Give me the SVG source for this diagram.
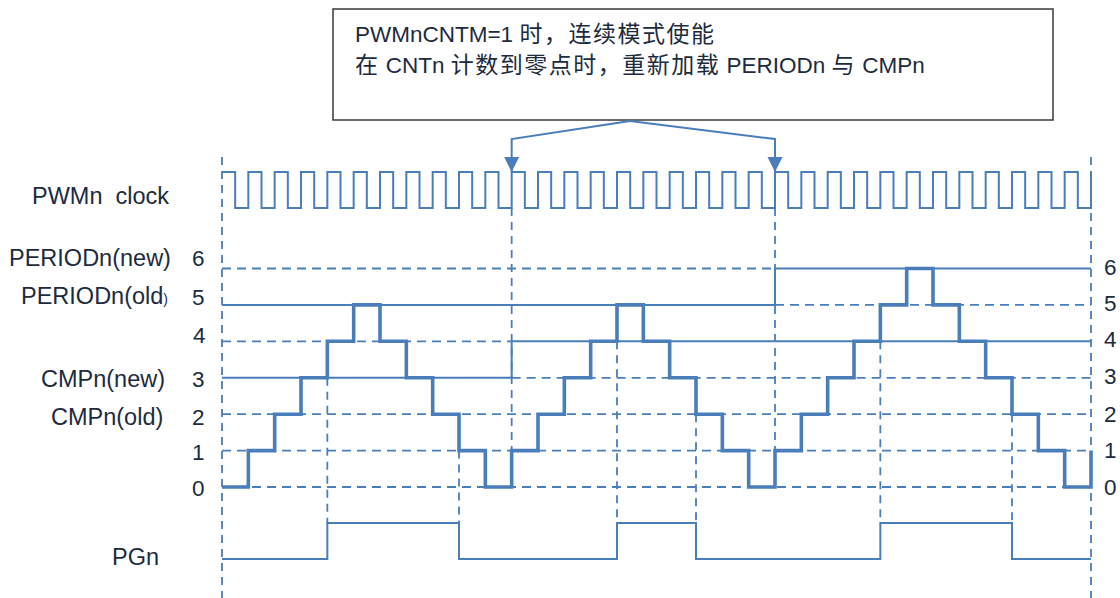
<svg xmlns="http://www.w3.org/2000/svg" width="1120" height="598" viewBox="0 0 1120 598">
<style>
.sig{fill:none;stroke:#4a7ebb;stroke-width:2;stroke-linejoin:miter}
.stair{fill:none;stroke:#4a7ebb;stroke-width:3.6;stroke-linejoin:miter}
.hd{fill:none;stroke:#4a7ebb;stroke-width:1.8;stroke-dasharray:9 6}
.vd{fill:none;stroke:#4a7ebb;stroke-width:1.8;stroke-dasharray:8 6}
.lv{fill:none;stroke:#4a7ebb;stroke-width:2}
.t{font-family:"Liberation Sans","Noto Sans CJK SC",sans-serif;font-size:23.5px;fill:#1d2b3e}
.n{font-family:"Liberation Sans",sans-serif;font-size:22.5px;fill:#1d2b3e}
.bt{font-family:"Liberation Sans","Noto Sans CJK SC",sans-serif;font-size:22.5px;fill:#1d2b3e}
.cjk{font-family:"Noto Sans CJK SC",sans-serif;font-size:23px;letter-spacing:1.5px}
</style>
<defs>
<marker id="ah" markerUnits="userSpaceOnUse" markerWidth="16" markerHeight="16" refX="15" refY="7.5" orient="auto">
<path d="M0,0 L15,7.5 L0,15 z" fill="#4a7ebb"/>
</marker>
</defs>

<g id="note">
<rect x="333" y="9" width="720" height="111" fill="#ffffff" stroke="#3a3a3a" stroke-width="1.5"/>
<text class="bt" x="355" y="42">PWMnCNTM=1 <tspan class="cjk">时，连续模式使能</tspan></text>
<text class="bt" x="355" y="73"><tspan class="cjk">在</tspan> CNTn <tspan class="cjk">计数到零点时，重新加载</tspan> PERIODn <tspan class="cjk">与</tspan> CMPn</text>
</g>

<g id="connectors">
<path class="sig" d="M630,121 L511.67,139 V172" marker-end="url(#ah)"/>
<path class="sig" d="M630,121 L775,139 V172" marker-end="url(#ah)"/>
</g>

<g id="labels">
<text class="t" x="32" y="204" xml:space="preserve">PWMn  clock</text>
<text class="t" x="9" y="266">PERIODn(new)</text>
<text class="t" x="21" y="304">PERIODn(old<tspan style="font-size:14px">)</tspan></text>
<text class="t" x="41" y="387">CMPn(new)</text>
<text class="t" x="51" y="425">CMPn(old)</text>
<text class="t" x="112" y="565">PGn</text>
<text class="n" x="192" y="266">6</text>
<text class="n" x="192" y="305">5</text>
<text class="n" x="193" y="343">4</text>
<text class="n" x="192" y="387">3</text>
<text class="n" x="192" y="425">2</text>
<text class="n" x="192" y="460">1</text>
<text class="n" x="192" y="496">0</text>
<text class="n" x="1104" y="275">6</text>
<text class="n" x="1104" y="311">5</text>
<text class="n" x="1104" y="347">4</text>
<text class="n" x="1104" y="384">3</text>
<text class="n" x="1104" y="421.5">2</text>
<text class="n" x="1104" y="458">1</text>
<text class="n" x="1104" y="495">0</text>
</g>

<g id="grid">
<path class="vd" d="M222,157 V598 M1091,157 V598"/>
<path class="vd" d="M511.67,208 V450.6 M775,208 V450.6"/>
<path class="vd" d="M327.33,377.8 V523 M459,450.6 V523 M617,341.3 V523 M696,414.2 V523 M880.33,341.3 V523 M1012,414.2 V523"/>
<path class="hd" d="M222,487 H1091 M222,450.6 H1091 M222,414.2 H1091 M511.67,377.8 H1091 M222,341.3 H511.67 M775,304.9 H1091 M222,268.5 H775"/>
<path class="lv" d="M222,377.8 H511.67 V341.3 H1091 M222,304.9 H775 V268.5 H1091"/>
</g>

<g id="clock">
<path class="sig" d="M222,172 H235.17 V208 H248.33 V172 H261.5 V208 H274.67 V172 H287.83 V208 H301 V172 H314.17 V208 H327.33 V172 H340.5 V208 H353.67 V172 H366.83 V208 H380 V172 H393.17 V208 H406.33 V172 H419.5 V208 H432.67 V172 H445.83 V208 H459 V172 H472.17 V208 H485.33 V172 H498.5 V208 H511.67 V172 H524.83 V208 H538 V172 H551.17 V208 H564.33 V172 H577.5 V208 H590.67 V172 H603.83 V208 H617 V172 H630.17 V208 H643.33 V172 H656.5 V208 H669.67 V172 H682.83 V208 H696 V172 H709.17 V208 H722.33 V172 H735.5 V208 H748.67 V172 H761.83 V208 H775 V172 H788.17 V208 H801.33 V172 H814.5 V208 H827.67 V172 H840.83 V208 H854 V172 H867.17 V208 H880.33 V172 H893.5 V208 H906.67 V172 H919.83 V208 H933 V172 H946.17 V208 H959.33 V172 H972.5 V208 H985.67 V172 H998.83 V208 H1012 V172 H1025.17 V208 H1038.33 V172 H1051.5 V208 H1064.67 V172 H1077.83 V208 H1091 V172"/>
</g>

<g id="counter">
<path class="stair" d="M222,487 H248.33 V450.6 H274.67 V414.2 H301 V377.8 H327.33 V341.3 H353.67 V304.9 H380 V341.3 H406.33 V377.8 H432.67 V414.2 H459 V450.6 H485.33 V487 H511.67 V450.6 H538 V414.2 H564.33 V377.8 H590.67 V341.3 H617 V304.9 H643.33 V341.3 H669.67 V377.8 H696 V414.2 H722.33 V450.6 H748.67 V487 H775 V450.6 H801.33 V414.2 H827.67 V377.8 H854 V341.3 H880.33 V304.9 H906.67 V268.5 H933 V304.9 H959.33 V341.3 H985.67 V377.8 H1012 V414.2 H1038.33 V450.6 H1064.67 V487 H1091 V450.6"/>
</g>

<g id="pgn">
<path class="sig" d="M222,559 H327.33 V523 H459 V559 H617 V523 H696 V559 H880.33 V523 H1012 V559 H1091"/>
</g>
</svg>
